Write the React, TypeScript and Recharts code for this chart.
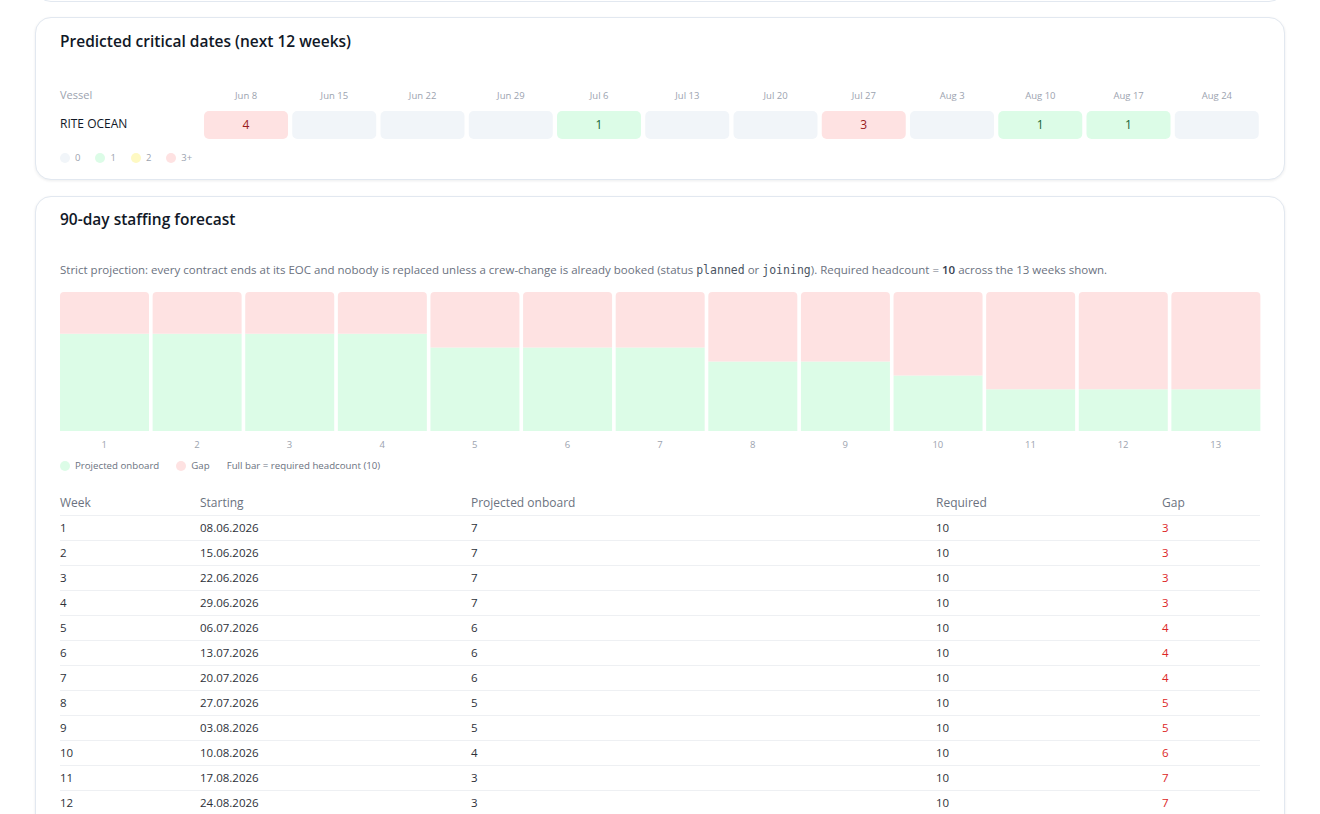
import React from 'react';
import { BarChart, Bar, XAxis, YAxis, Cell, LabelList } from 'recharts';

const heatWeeks = ['Jun 8', 'Jun 15', 'Jun 22', 'Jun 29', 'Jul 6', 'Jul 13', 'Jul 20', 'Jul 27', 'Aug 3', 'Aug 10', 'Aug 17', 'Aug 24'];
const heatCounts = [4, 0, 0, 0, 1, 0, 0, 3, 0, 1, 1, 0];
const vesselName = 'RITE OCEAN';

const weekNums = ['1', '2', '3', '4', '5', '6', '7', '8', '9', '10', '11', '12', '13'];
const weekStarts = ['08.06.2026', '15.06.2026', '22.06.2026', '29.06.2026', '06.07.2026', '13.07.2026', '20.07.2026', '27.07.2026', '03.08.2026', '10.08.2026', '17.08.2026', '24.08.2026', '31.08.2026'];
const onboard = [7, 7, 7, 7, 6, 6, 6, 5, 5, 4, 3, 3, 3];
const required = [10, 10, 10, 10, 10, 10, 10, 10, 10, 10, 10, 10, 10];
const gap = [3, 3, 3, 3, 4, 4, 4, 5, 5, 6, 7, 7, 7];

const FONT = '"Open Sans", "Noto Sans", sans-serif';

const heatFill = (c: number) => (c >= 3 ? '#fee2e2' : c === 2 ? '#fef9c3' : c === 1 ? '#dcfce7' : '#f1f5f9');
const heatText = (c: number) => (c >= 3 ? '#991b1b' : c === 2 ? '#854d0e' : '#166534');

const heatData = heatWeeks.map((w, i) => ({ week: w, count: heatCounts[i], tile: 1 }));
const staffData = weekNums.map((w, i) => ({ week: w, onboard: onboard[i], gap: gap[i] }));

const card: React.CSSProperties = {
  position: 'absolute',
  left: 35,
  width: 1250,
  boxSizing: 'border-box',
  border: '1px solid #e2e8f0',
  borderRadius: 16,
  background: '#fff',
  boxShadow: '0 1px 3px rgba(15,23,42,0.08)',
};

const abs = (left: number, top: number, extra: React.CSSProperties = {}): React.CSSProperties => ({
  position: 'absolute',
  left,
  top,
  whiteSpace: 'nowrap',
  ...extra,
});

const legendDot = (color: string): React.CSSProperties => ({
  display: 'inline-block',
  width: 10,
  height: 10,
  borderRadius: '50%',
  background: color,
  marginRight: 5,
  verticalAlign: 'middle',
});

export default function App() {
  return (
    <div style={{ position: 'absolute', left: 0, top: 0, width: 1320, height: 814, overflow: 'hidden', background: '#fff', fontFamily: FONT, color: '#111827' }}>
      {/* previous card edge */}
      <div style={{ ...card, top: -40, height: 42, boxShadow: 'none' }} />

      {/* Card 1 */}
      <div style={{ ...card, top: 17, height: 163 }} />
      <div style={abs(60, 30, { fontSize: 15.5, fontWeight: 600, lineHeight: '22px' })}>Predicted critical dates (next 12 weeks)</div>
      <div style={abs(60, 87, { fontSize: 11, color: '#9ca3af', lineHeight: '16px' })}>Vessel</div>
      <div style={abs(60, 116, { fontSize: 12, fontWeight: 500, lineHeight: '16px' })}>{vesselName}</div>

      <div style={abs(202, 81)}>
        <BarChart width={1059} height={62} data={heatData} margin={{ top: 0, right: 0, bottom: 4, left: 0 }} barCategoryGap={2}>
          <XAxis dataKey="week" orientation="top" height={30} axisLine={false} tickLine={false} tickMargin={6} interval={0} tick={{ fontSize: 9.5, fill: '#9ca3af', fontFamily: FONT }} />
          <YAxis hide domain={[0, 1]} />
          <Bar dataKey="tile" isAnimationActive={false} radius={5}>
            {heatData.map((d, i) => (
              <Cell key={i} fill={heatFill(d.count)} />
            ))}
            <LabelList
              dataKey="count"
              content={(p: any) => {
                const c = Number(p.value);
                if (!c) return null;
                return (
                  <text x={p.x + p.width / 2} y={p.y + p.height / 2} dy={4} textAnchor="middle" fontSize={12} fill={heatText(c)} fontFamily={FONT}>
                    {c}
                  </text>
                );
              }}
            />
          </Bar>
        </BarChart>
      </div>

      <div style={abs(60, 150, { fontSize: 9.5, color: '#9ca3af', lineHeight: '16px' })}>
        <span style={legendDot('#f1f5f9')} />
        <span style={{ verticalAlign: 'middle', marginRight: 15 }}>0</span>
        <span style={legendDot('#dcfce7')} />
        <span style={{ verticalAlign: 'middle', marginRight: 15 }}>1</span>
        <span style={legendDot('#fef9c3')} />
        <span style={{ verticalAlign: 'middle', marginRight: 15 }}>2</span>
        <span style={legendDot('#fee2e2')} />
        <span style={{ verticalAlign: 'middle' }}>3+</span>
      </div>

      {/* Card 2 */}
      <div style={{ ...card, top: 196, height: 700 }} />
      <div style={abs(60, 208, { fontSize: 15.5, fontWeight: 600, lineHeight: '22px' })}>90-day staffing forecast</div>
      <div style={abs(60, 262, { fontSize: 11.5, color: '#6b7280', lineHeight: '16px' })}>
        Strict projection: every contract ends at its EOC and nobody is replaced unless a crew-change is already booked (status{' '}
        <code style={{ fontFamily: '"DejaVu Sans Mono", monospace', fontSize: 11.5, color: '#4b5563' }}>planned</code> or{' '}
        <code style={{ fontFamily: '"DejaVu Sans Mono", monospace', fontSize: 11.5, color: '#4b5563' }}>joining</code>). Required headcount ={' '}
        <b style={{ fontWeight: 600, color: '#374151' }}>10</b> across the 13 weeks shown.
      </div>

      <div style={abs(58, 292)}>
        <BarChart width={1204} height={163} data={staffData} margin={{ top: 0, right: 0, bottom: 0, left: 0 }} barCategoryGap={2}>
          <XAxis dataKey="week" height={24} axisLine={false} tickLine={false} tickMargin={4} interval={0} tick={{ fontSize: 9.5, fill: '#9ca3af', fontFamily: FONT }} />
          <YAxis hide domain={[0, 10]} />
          <Bar dataKey="onboard" stackId="a" fill="#dcfce7" isAnimationActive={false} />
          <Bar dataKey="gap" stackId="a" fill="#fee2e2" radius={[4, 4, 0, 0]} isAnimationActive={false} />
        </BarChart>
      </div>

      <div style={abs(60, 458, { fontSize: 9.7, color: '#6b7280', lineHeight: '16px' })}>
        <span style={legendDot('#dcfce7')} />
        <span style={{ verticalAlign: 'middle', marginRight: 17 }}>Projected onboard</span>
        <span style={legendDot('#fee2e2')} />
        <span style={{ verticalAlign: 'middle', marginRight: 17 }}>Gap</span>
        <span style={{ verticalAlign: 'middle' }}>Full bar = required headcount (10)</span>
      </div>

      <table style={{ position: 'absolute', left: 60, top: 490, width: 1200, borderCollapse: 'collapse', tableLayout: 'fixed', fontFamily: FONT }}>
        <colgroup>
          <col style={{ width: 140 }} />
          <col style={{ width: 271 }} />
          <col style={{ width: 465 }} />
          <col style={{ width: 226 }} />
          <col style={{ width: 98 }} />
        </colgroup>
        <thead>
          <tr style={{ height: 25, borderBottom: '1px solid #eef0f3' }}>
            {['Week', 'Starting', 'Projected onboard', 'Required', 'Gap'].map((h) => (
              <th key={h} style={{ textAlign: 'left', fontWeight: 400, fontSize: 12, color: '#6b7280', padding: 0 }}>{h}</th>
            ))}
          </tr>
        </thead>
        <tbody>
          {weekNums.map((w, i) => (
            <tr key={w} style={{ height: 25, borderBottom: '1px solid #eef0f3', fontSize: 11.5, color: '#2d3139' }}>
              <td style={{ padding: 0 }}>{w}</td>
              <td style={{ padding: 0 }}>{weekStarts[i]}</td>
              <td style={{ padding: 0 }}>{onboard[i]}</td>
              <td style={{ padding: 0 }}>{required[i]}</td>
              <td style={{ padding: 0, color: '#dc2626' }}>{gap[i]}</td>
            </tr>
          ))}
        </tbody>
      </table>
    </div>
  );
}
